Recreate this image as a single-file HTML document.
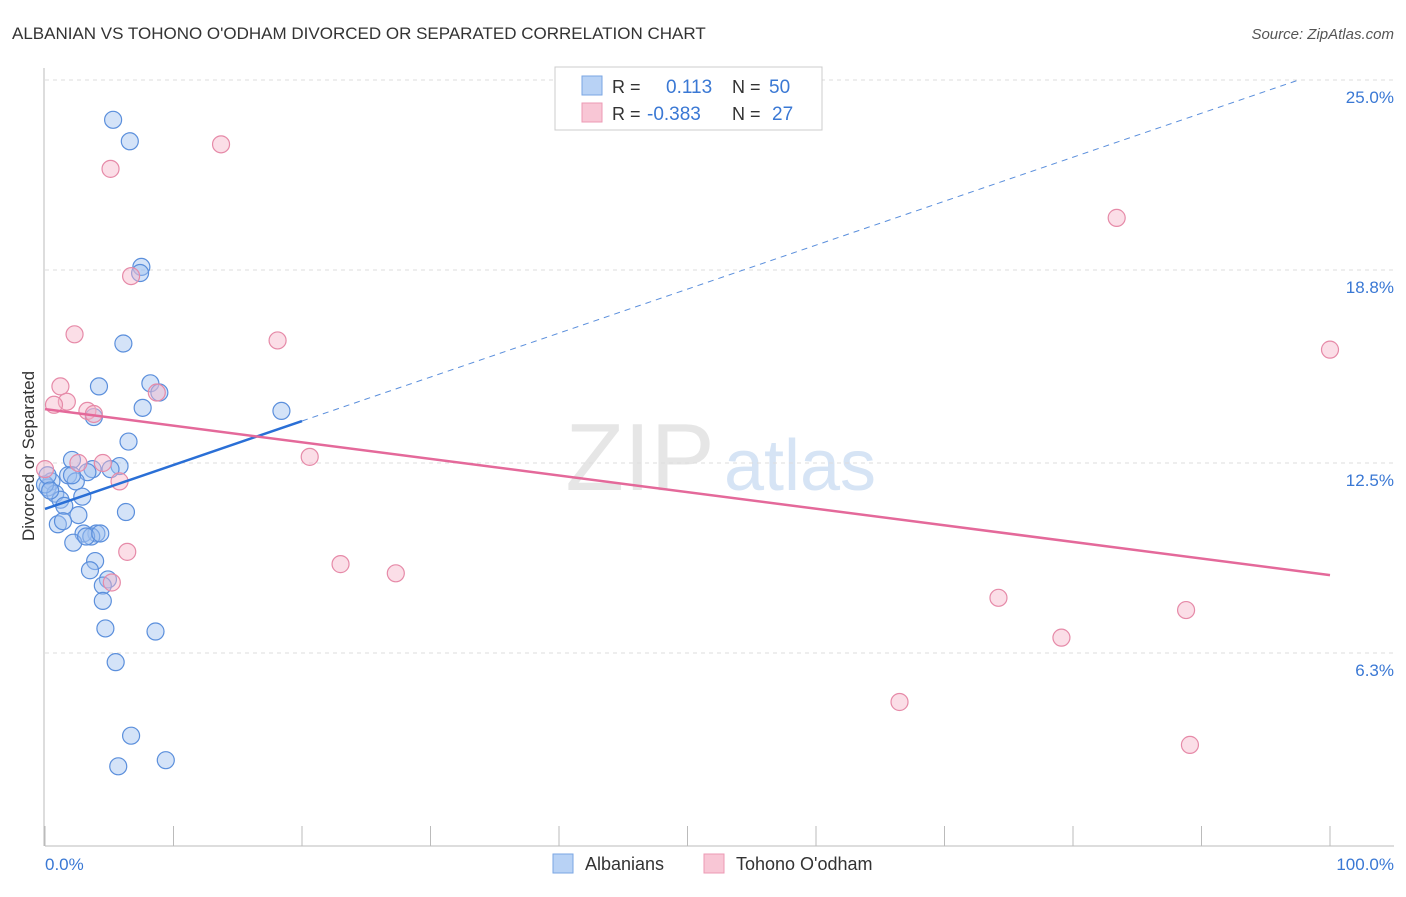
<!DOCTYPE html>
<html><head><meta charset="utf-8"><style>
body{margin:0;background:#fff;font-family:"Liberation Sans",sans-serif}
svg text{font-family:"Liberation Sans",sans-serif}
</style></head><body>
<svg id="chart" width="1406" height="892">
<text x="12" y="39" font-size="17" fill="#333">ALBANIAN VS TOHONO O'ODHAM DIVORCED OR SEPARATED CORRELATION CHART</text>
<text x="1394" y="39" font-size="15" fill="#555" text-anchor="end" font-style="italic">Source: ZipAtlas.com</text>
<text x="640" y="490" font-size="96" fill="#e6e6e6" text-anchor="middle" font-family="Liberation Serif">ZIP</text>
<text x="800" y="490" font-size="72" fill="#d6e4f5" text-anchor="middle">atlas</text>
<g id="grid"></g>
<g id="axes"></g>
<g id="marks"></g>
<text transform="translate(34,456) rotate(-90)" font-size="17" fill="#333" text-anchor="middle">Divorced or Separated</text>
<text x="45" y="870" font-size="17" fill="#3a78d4">0.0%</text>
<text x="1394" y="870" font-size="17" fill="#3a78d4" text-anchor="end">100.0%</text>
<g>
<rect x="555" y="67" width="267" height="63" fill="#fff" stroke="#ccc"/>
<rect x="582" y="76" width="20" height="19" fill="#b8d2f5" stroke="#7aa6e3"/>
<rect x="582" y="103" width="20" height="19" fill="#f8c6d5" stroke="#ec9ab4"/>
<text x="612" y="93" font-size="18" fill="#333">R =</text>
<text x="666" y="93" font-size="19" fill="#3a78d4">0.113</text>
<text x="732" y="93" font-size="18" fill="#333">N =</text>
<text x="769" y="93" font-size="19" fill="#3a78d4">50</text>
<text x="612" y="120" font-size="18" fill="#333">R =</text>
<text x="647" y="120" font-size="19" fill="#3a78d4">-0.383</text>
<text x="732" y="120" font-size="18" fill="#333">N =</text>
<text x="772" y="120" font-size="19" fill="#3a78d4">27</text>
</g>
<g>
<rect x="553" y="854" width="20" height="19" fill="#b8d2f5" stroke="#7aa6e3"/>
<text x="585" y="870" font-size="18" fill="#333">Albanians</text>
<rect x="704" y="854" width="20" height="19" fill="#f8c6d5" stroke="#ec9ab4"/>
<text x="736" y="870" font-size="18" fill="#333">Tohono O'odham</text>
</g>
</svg>
<script>
const yTicks=[25.0,18.8,12.5,6.3];
const yTickLabels=["25.0%","18.8%","12.5%","6.3%"];
const xTicks=[0,10,20,30,40,50,60,70,80,90,100];
const albX=[5.3,6.6,7.5,7.4,6.1,4.2,8.2,8.9,7.6,3.8,18.4,6.5,2.1,3.7,5.8,5.1,1.8,3.3,2.4,0.5,0.2,0.8,2.9,1.2,1.5,2.6,6.3,1.0,1.4,4.0,3.0,3.6,2.2,3.9,3.5,4.9,4.5,4.5,4.7,8.6,5.5,6.7,9.4,5.7,0,0.2,0.4,3.2,2.1,4.3];
const albY=[23.7,23.0,18.9,18.7,16.4,15.0,15.1,14.8,14.3,14.0,14.2,13.2,12.6,12.3,12.4,12.3,12.1,12.2,11.9,11.9,11.7,11.5,11.4,11.3,11.1,10.8,10.9,10.5,10.6,10.2,10.2,10.1,9.9,9.3,9.0,8.7,8.5,8.0,7.1,7.0,6.0,3.6,2.8,2.6,11.8,12.1,11.6,10.1,12.1,10.2];
const tohX=[5.1,13.7,6.7,2.3,18.1,1.2,1.7,0.7,3.3,3.8,8.7,20.6,2.6,4.5,5.8,6.4,5.2,23.0,27.3,0,83.4,100,74.2,79.1,88.8,66.5,89.1];
const tohY=[22.1,22.9,18.6,16.7,16.5,15.0,14.5,14.4,14.2,14.1,14.8,12.7,12.5,12.5,11.9,9.6,8.6,9.2,8.9,12.3,20.5,16.2,8.1,6.8,7.7,4.7,3.3];
const albTrend=[11.0,13.87];   // y at x=0 and x=20
const tohTrend=[14.26,8.84];  // y at x=0 and x=100
const NS="http://www.w3.org/2000/svg";
const X=v=>45+v*12.85, Y=v=>80+(25-v)*30.64;
function mk(tag,attrs,parent){const e=document.createElementNS(NS,tag);for(const k in attrs)e.setAttribute(k,attrs[k]);parent.appendChild(e);return e;}
const grid=document.getElementById('grid'),axes=document.getElementById('axes'),marks=document.getElementById('marks');
yTicks.forEach((t,i)=>{
 const l=mk('line',{x1:45,x2:1394,y1:Y(t),y2:Y(t),stroke:'#ddd','stroke-dasharray':'4,4'},grid);
 
 
 const tx=mk('text',{x:1394,y:Y(t)+23,'font-size':17,fill:'#3a78d4','text-anchor':'end'},axes);
 tx.textContent=yTickLabels[i];
 
 
});
const ax=mk('line',{x1:45,x2:1394,y1:846,y2:846,stroke:'#bbb'},axes);


const ay=mk('line',{x1:44,x2:44,y1:68,y2:846,stroke:'#bbb'},axes);


xTicks.forEach(t=>{
 const l=mk('line',{x1:X(t),x2:X(t),y1:826,y2:846,stroke:'#bbb'},axes);
 
 
});
function dots(xs,ys,fill,stroke,name){
 xs.forEach((x,i)=>{
  const c=mk('circle',{cx:X(x),cy:Y(ys[i]),r:8.5,fill:fill,'fill-opacity':0.45,stroke:stroke,'stroke-width':1.2},marks);
  
  
 });
}
dots(albX,albY,'#9fc2f0','#5b8fdc','albanian-point');
dots(tohX,tohY,'#f7b5ca','#e68aa8','tohono-point');
const a1=mk('line',{x1:X(0),y1:Y(albTrend[0]),x2:X(20),y2:Y(albTrend[1]),stroke:'#2a6fd6','stroke-width':2.5},marks);


const slope=(albTrend[1]-albTrend[0])/20, xe=Math.min(100,(25-albTrend[0])/slope);
const a2=mk('line',{x1:X(20),y1:Y(albTrend[1]),x2:X(xe),y2:Y(albTrend[0]+slope*xe),stroke:'#5b8fdc','stroke-width':1,'stroke-dasharray':'6,5'},marks);


const t1=mk('line',{x1:X(0),y1:Y(tohTrend[0]),x2:X(100),y2:Y(tohTrend[1]),stroke:'#e4699a','stroke-width':2.5},marks);


</script>
</body></html>
